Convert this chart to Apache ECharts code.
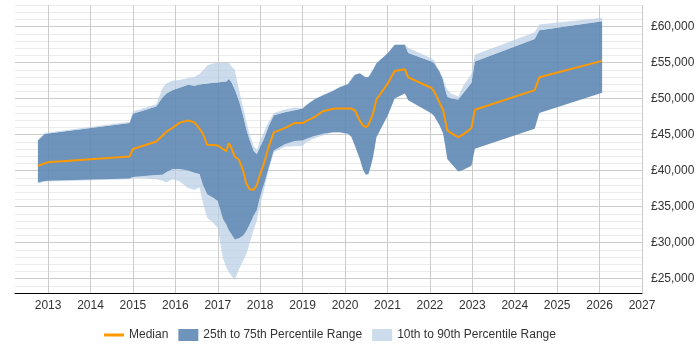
<!DOCTYPE html>
<html>
<head>
<meta charset="utf-8">
<script src="https://cdn.jsdelivr.net/npm/echarts@6/dist/echarts.min.js"></script>
<style>html,body{margin:0;padding:0;background:#fff}#c{width:700px;height:350px}</style>
</head>
<body>
<div id="c"></div>
<script>
var dates = [2012.76, 2012.92, 2013.0, 2014.92, 2015.0, 2015.55, 2015.7, 2015.79, 2015.94, 2016.1,
  2016.3, 2016.45, 2016.57, 2016.65, 2016.75, 2016.9, 2017.0, 2017.12, 2017.2, 2017.26,
  2017.32, 2017.4, 2017.5, 2017.6, 2017.67, 2017.75, 2017.85, 2017.92, 2018.0, 2018.1,
  2018.2, 2018.32, 2018.58, 2018.81, 2019.0, 2019.09, 2019.28, 2019.48, 2019.72, 2019.87,
  2020.07, 2020.15, 2020.23, 2020.35, 2020.42, 2020.49, 2020.55, 2020.58, 2020.66, 2020.74,
  2021.01, 2021.17, 2021.41, 2021.49, 2022.04, 2022.1, 2022.23, 2022.31, 2022.36, 2022.41,
  2022.5, 2022.67, 2022.78, 2022.98, 2023.06, 2024.47, 2024.58, 2026.06];

var p10 = [38200, 38450, 38500, 38800, 39000, 38800, 38580, 38340, 38810, 38500,
  37600, 37300, 37640, 35500, 33440, 32700, 32040, 27840, 26600, 25900,
  25400, 24820, 26300, 27500, 28320, 29900, 31900, 33000, 35300, 37600,
  40000, 42550, 43300, 43380, 43400, 43950, 44500, 44880, 45300, 45300,
  45000, 44600, 43400, 41500, 40100, 39420, 39500, 40000, 41840, 44600,
  47680, 50020, 50720, 49780, 47920, 47600, 46280, 45200, 43500, 41620,
  41000, 39880, 40100, 40680, 43020, 45820, 48000, 50800];

var p25 = [38340, 38550, 38600, 38900, 39100, 39400, 39420, 39800, 40220, 40220,
  40000, 39700, 39520, 38000, 36720, 36200, 35780, 33300, 32520, 31700,
  31200, 30420, 30600, 31000, 31580, 32500, 33800, 34500, 36500, 38300,
  40400, 42780, 43650, 44100, 44180, 44420, 44800, 45120, 45340, 45340,
  45120, 44700, 43480, 41600, 40200, 39420, 39520, 40000, 41840, 44640,
  47680, 50020, 50720, 49780, 47920, 47600, 46280, 45200, 43500, 41620,
  41000, 39880, 40100, 40680, 43020, 45820, 48000, 50800];

var median = [40680, 41000, 41150, 41950, 43000, 44050, 44880, 45400, 45950, 46660,
  46950, 46700, 45820, 45120, 43580, 43550, 43480, 43000, 42700, 43800,
  43160, 41950, 41500, 39980, 38250, 37420, 37350, 38000, 39500, 41200,
  43300, 45300, 45900, 46600, 46600, 46900, 47440, 48240, 48600, 48620,
  48620, 48620, 48380, 46900, 46280, 46040, 46300, 46420, 47920, 49880,
  52120, 53840, 54080, 52960, 51470, 51000, 49400, 48460, 47000, 45600,
  45200, 44660, 45000, 45910, 48460, 51180, 52960, 55240];

var p75 = [44180, 45100, 45150, 46600, 47900, 48900, 50200, 50720, 51200, 51510,
  51930, 51800, 51950, 52030, 52100, 52200, 52250, 52330, 52390, 52730,
  52300, 51300, 49700, 47600, 45820, 44300, 42700, 42300, 43300, 44600,
  46200, 47680, 48100, 48380, 48620, 49100, 49900, 50480, 51100, 51560,
  52020, 52700, 53300, 53520, 53200, 52960, 53000, 53100, 54000, 54920,
  56320, 57480, 57480, 56320, 55140, 54900, 53740, 52630, 51300, 50300,
  50000, 49880, 50720, 52210, 55140, 58280, 59480, 60740];

var p90 = [44300, 45250, 45300, 46800, 48200, 49200, 51500, 52100, 52500, 52600,
  52860, 53000, 53400, 53900, 54600, 54900, 54950, 54950, 54950, 54950,
  54500, 54000, 51200, 48700, 46900, 45000, 43300, 42900, 44200, 45500,
  46800, 48000, 48500, 48760, 48700, 49150, 49950, 50550, 51150, 51600,
  52050, 52750, 53350, 53550, 53250, 53000, 53050, 53150, 54050, 54950,
  56350, 57500, 57550, 57020, 55610, 55300, 53800, 52900, 51900, 51300,
  50700, 50300, 51700, 53400, 56090, 59200, 60280, 61220];

var yearTicks = [2013, 2014, 2015, 2016, 2017, 2018, 2019, 2020, 2021, 2022, 2023, 2024, 2025, 2026, 2027];
var yTicks = [25000, 30000, 35000, 40000, 45000, 50000, 55000, 60000];
var legendNames = ['Median', '25th to 75th Percentile Range', '10th to 90th Percentile Range'];

// [value, date] so the first (stackable) dimension is the y value
function pairs(a, b) {
  return dates.map(function (d, i) { return [b ? a[i] - b[i] : a[i], d]; });
}

var FONT = '"Liberation Sans", Arial, sans-serif';
var DARK = 'rgba(95,136,181,0.9)';
var LIGHT = 'rgba(182,205,228,0.7)';
var ORANGE = '#ff9900';
var ENC = { x: 1, y: 0 };

var chart = echarts.init(document.getElementById('c'), null, { renderer: 'canvas' });
chart.setOption({
  animation: false,
  textStyle: { fontFamily: FONT },
  grid: { left: 15, right: 58, top: 5, bottom: 57, containLabel: false },
  legend: {
    left: 99, top: 324,
    itemGap: 10, itemWidth: 20, itemHeight: 12,
    textStyle: { fontFamily: FONT, fontSize: 12, color: '#333' },
    data: [
      { name: legendNames[0], icon: 'path://M0,5H20V8H0Z', itemStyle: { color: ORANGE } },
      { name: legendNames[1], icon: 'rect', itemStyle: { color: 'rgb(111,148,188)' } },
      { name: legendNames[2], icon: 'rect', itemStyle: { color: 'rgb(204,220,236)' } }
    ]
  },
  xAxis: {
    type: 'value', min: 2012.22, max: 2027,
    axisLine: { show: true, onZero: false, lineStyle: { color: '#000', width: 1 } },
    axisTick: { show: false, customValues: yearTicks },
    axisLabel: { customValues: yearTicks, color: '#333', fontSize: 12, fontFamily: FONT, margin: 7,
      formatter: function (v) { return String(v); } },
    splitLine: { show: true, lineStyle: { color: '#cccccc', width: 1 } }
  },
  yAxis: [
    {
      type: 'value', min: 23000, max: 63000, interval: 1000, position: 'right',
      axisLine: { show: false }, axisTick: { show: false }, axisLabel: { show: false },
      splitLine: { show: true, lineStyle: { color: '#ebebeb', width: 1 } }
    },
    {
      type: 'value', min: 23000, max: 63000, position: 'right',
      axisLine: { show: false },
      axisTick: { show: false, customValues: yTicks },
      axisLabel: { customValues: yTicks, color: '#333', fontSize: 12, fontFamily: FONT, margin: 9,
        formatter: function (v) { return '£' + v.toLocaleString('en-GB'); } },
      splitLine: { show: true, lineStyle: { color: '#cccccc', width: 1 } }
    }
  ],
  series: [
    { name: 'base', type: 'line', stack: 'band', data: pairs(p10), encode: ENC, showSymbol: false,
      lineStyle: { width: 0 } },
    { name: legendNames[2], type: 'line', stack: 'band', data: pairs(p25, p10), encode: ENC, showSymbol: false,
      lineStyle: { width: 0 }, areaStyle: { color: LIGHT, opacity: 1 } },
    { name: legendNames[1], type: 'line', stack: 'band', data: pairs(p75, p25), encode: ENC, showSymbol: false,
      lineStyle: { width: 0 }, areaStyle: { color: DARK, opacity: 1 } },
    { name: legendNames[2], type: 'line', stack: 'band', data: pairs(p90, p75), encode: ENC, showSymbol: false,
      lineStyle: { width: 0 }, areaStyle: { color: LIGHT, opacity: 1 } },
    { name: legendNames[0], type: 'line', data: pairs(median), encode: ENC, showSymbol: false,
      itemStyle: { color: ORANGE },
      lineStyle: { color: ORANGE, width: 2 }, z: 5 }
  ]
});
</script>
</body>
</html>
